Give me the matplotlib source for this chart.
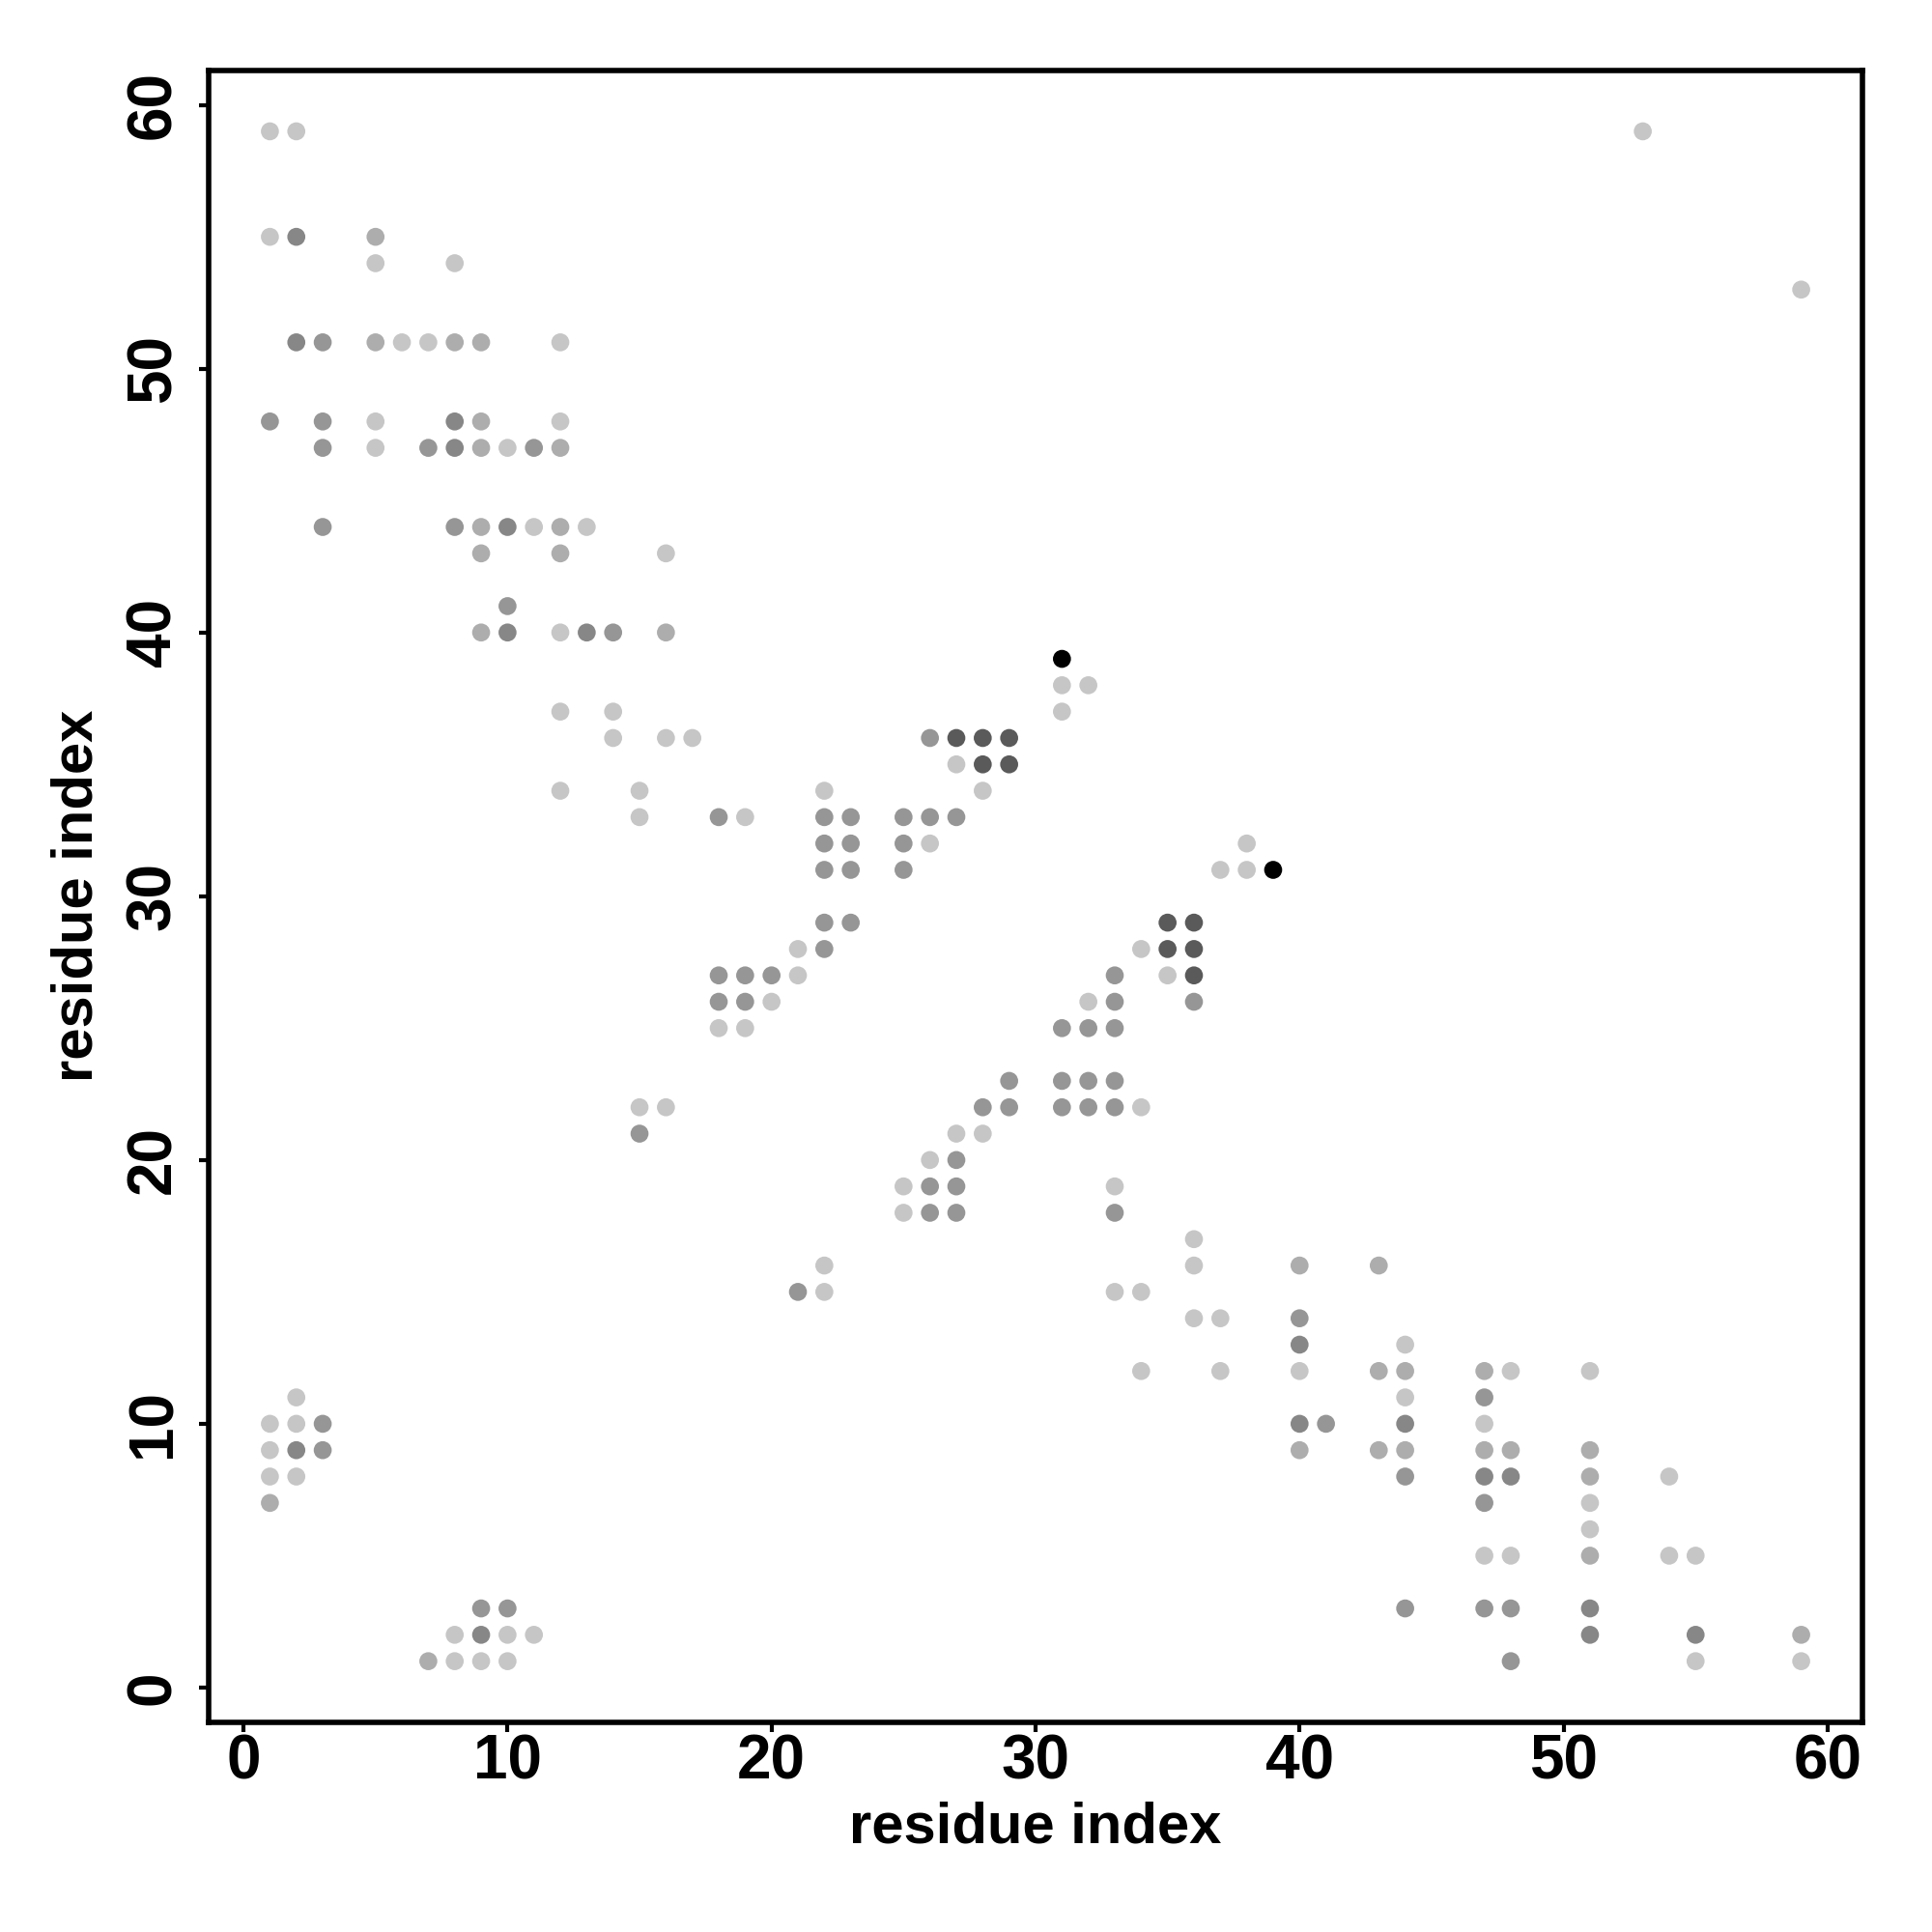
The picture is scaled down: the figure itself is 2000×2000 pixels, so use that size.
import matplotlib
matplotlib.use('Agg')
import matplotlib.pyplot as plt

# contact map, grey level = contact strength class (1 light .. 6 black)
res_x = [1, 2, 53,
         1, 2, 5,
         5, 8,
         59,
         2, 3, 5, 6, 7, 8, 9, 12,
         1, 3, 5, 8, 9, 12,
         3, 5, 7, 8, 9, 10, 11, 12,
         3, 8, 9, 10, 11, 12, 13,
         9, 12, 16,
         10,
         9, 10, 12, 13, 14, 16,
         31,
         31, 32,
         12, 14, 31,
         14, 16, 17, 26, 27, 28, 29,
         27, 28, 29,
         12, 15, 22, 28,
         15, 18, 19, 22, 23, 25, 26, 27,
         22, 23, 25, 26, 38,
         22, 23, 25, 37, 38, 39,
         22, 23, 35, 36,
         21, 22, 34, 35, 36,
         18, 19, 20, 21, 33, 35, 36,
         18, 19, 20, 32, 33, 36,
         18, 19, 31, 32, 33,
         29, 31, 32, 33,
         15, 16, 28, 29, 31, 32, 33, 34,
         15, 27, 28,
         26, 27,
         25, 26, 27, 33,
         25, 26, 27, 33,
         36,
         22, 36, 40, 43,
         21, 22, 33, 34,
         36, 37, 40,
         40, 44,
         34, 37, 40, 43, 44, 47, 48, 51,
         2, 44, 47,
         1, 2, 3, 40, 41, 44, 47,
         1, 2, 3, 40, 43, 44, 47, 48, 51,
         1, 2, 44, 47, 48, 51, 54,
         1, 47, 51,
         51,
         47, 48, 51, 54, 55,
         9, 10, 44, 47, 48, 51,
         8, 9, 10, 11, 51, 55, 59,
         7, 8, 9, 10, 48, 55, 59]

res_y = [59, 59, 59,
         55, 55, 55,
         54, 54,
         53,
         51, 51, 51, 51, 51, 51, 51, 51,
         48, 48, 48, 48, 48, 48,
         47, 47, 47, 47, 47, 47, 47, 47,
         44, 44, 44, 44, 44, 44, 44,
         43, 43, 43,
         41,
         40, 40, 40, 40, 40, 40,
         39,
         38, 38,
         37, 37, 37,
         36, 36, 36, 36, 36, 36, 36,
         35, 35, 35,
         34, 34, 34, 34,
         33, 33, 33, 33, 33, 33, 33, 33,
         32, 32, 32, 32, 32,
         31, 31, 31, 31, 31, 31,
         29, 29, 29, 29,
         28, 28, 28, 28, 28,
         27, 27, 27, 27, 27, 27, 27,
         26, 26, 26, 26, 26, 26,
         25, 25, 25, 25, 25,
         23, 23, 23, 23,
         22, 22, 22, 22, 22, 22, 22, 22,
         21, 21, 21,
         20, 20,
         19, 19, 19, 19,
         18, 18, 18, 18,
         17,
         16, 16, 16, 16,
         15, 15, 15, 15,
         14, 14, 14,
         13, 13,
         12, 12, 12, 12, 12, 12, 12, 12,
         11, 11, 11,
         10, 10, 10, 10, 10, 10, 10,
         9, 9, 9, 9, 9, 9, 9, 9, 9,
         8, 8, 8, 8, 8, 8, 8,
         7, 7, 7,
         6,
         5, 5, 5, 5, 5,
         3, 3, 3, 3, 3, 3,
         2, 2, 2, 2, 2, 2, 2,
         1, 1, 1, 1, 1, 1, 1]

level = [1, 1, 1,
         1, 4, 2,
         1, 1,
         1,
         4, 3, 2, 1, 1, 2, 2, 1,
         3, 3, 1, 4, 2, 1,
         3, 1, 3, 4, 2, 1, 3, 2,
         3, 3, 2, 4, 1, 2, 1,
         2, 2, 1,
         3,
         2, 4, 1, 4, 3, 2,
         6,
         1, 1,
         1, 1, 1,
         1, 1, 1, 3, 5, 5, 5,
         1, 5, 5,
         1, 1, 1, 1,
         1, 3, 1, 3, 3, 3, 3, 3,
         3, 3, 3, 1, 1,
         3, 3, 3, 1, 1, 6,
         3, 3, 5, 5,
         1, 3, 1, 5, 5,
         3, 3, 3, 1, 3, 1, 5,
         3, 3, 1, 1, 3, 3,
         1, 1, 3, 3, 3,
         3, 3, 3, 3,
         1, 1, 3, 3, 3, 3, 3, 1,
         3, 1, 1,
         1, 3,
         1, 3, 3, 1,
         1, 3, 3, 3,
         1,
         1, 1, 2, 2,
         3, 1, 1, 1,
         1, 1, 3,
         4, 1,
         1, 1, 1, 2, 2, 2, 1, 1,
         1, 1, 3,
         1, 1, 3, 4, 3, 4, 1,
         1, 4, 3, 2, 2, 2, 2, 2, 2,
         1, 1, 3, 4, 4, 2, 1,
         2, 3, 1,
         1,
         1, 1, 2, 1, 1,
         3, 3, 3, 3, 3, 4,
         1, 4, 1, 1, 4, 4, 2,
         2, 1, 1, 1, 3, 1, 1]

greys = {1: '#c6c6c6', 2: '#adadad', 3: '#969696', 4: '#878787', 5: '#5a5a5a', 6: '#000000'}
cols = [greys[l] for l in level]

plt.rcParams['font.family'] = ['Liberation Sans', 'DejaVu Sans']
plt.rcParams['font.weight'] = 'bold'

fig = plt.figure(figsize=(10, 10), dpi=200)
ax = fig.add_axes([0.108, 0.1085, 0.856, 0.8552])

ax.scatter(res_x, res_y, s=45, c=cols, edgecolors='none', zorder=3)

ax.set_xlim(-1.32, 61.32)
ax.set_ylim(-1.32, 61.32)
ax.set_xticks(range(0, 61, 10))
ax.set_yticks(range(0, 61, 10))

for sp in ax.spines.values():
    sp.set_linewidth(2.0)

ax.tick_params(axis='both', direction='out', length=3.6, width=1.5, labelsize=23)
ax.tick_params(axis='x', pad=0.5)
ax.tick_params(axis='y', pad=6)
for t in ax.get_yticklabels():
    t.set_rotation(90)
    t.set_va('center')
for t in ax.get_xticklabels() + ax.get_yticklabels():
    t.set_fontweight('bold')

ax.set_xlabel('residue index', fontsize=21.5, fontweight='bold')
ax.set_ylabel('residue index', fontsize=21.5, fontweight='bold')
ax.xaxis.set_label_coords(0.5, -0.0636)
ax.xaxis.label.set_va('center')
ax.yaxis.set_label_coords(-0.0794, 0.5)
ax.yaxis.label.set_va('center')

fig.savefig('out.png', dpi=200, facecolor='white')
